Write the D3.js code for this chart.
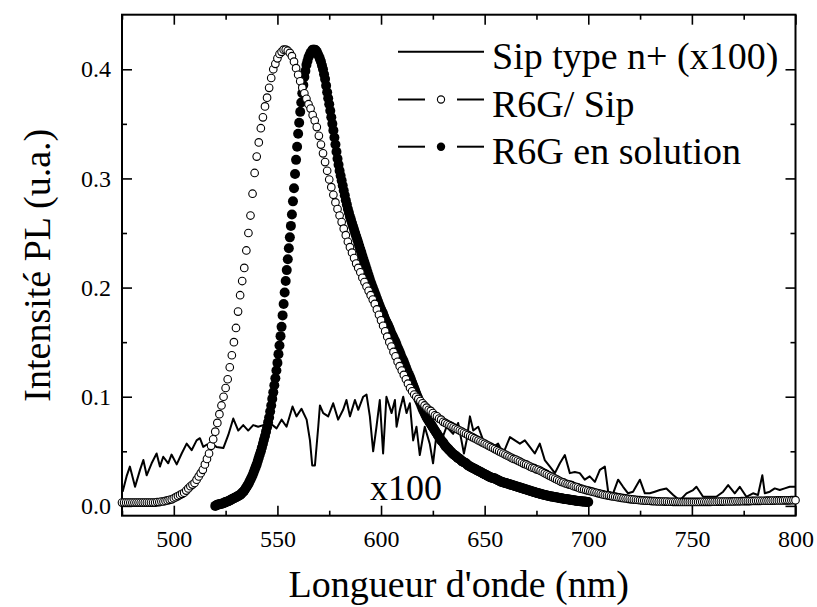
<!DOCTYPE html>
<html><head><meta charset="utf-8">
<script src="https://cdn.jsdelivr.net/npm/d3@7"></script>
<style>
body{margin:0;background:#fff}
svg{display:block}
text{font-family:"Liberation Serif","Times New Roman",serif;fill:#000}
</style>
</head><body><svg id="c" width="817" height="607"></svg>
<script>
// ---- data ----
const sipWavelength = [475.3,477.2,478.8,481.3,483.7,485.3,486.9,489.3,491.7,493.3,
494.9,497.3,498.9,501.4,503.8,506.2,508.6,511.0,512.6,514.2,
515.8,518.2,520.6,523.9,526.3,528.7,531.1,533.5,535.9,538.3,
540.7,543.2,546.4,549.6,552.0,554.4,557.3,559.2,561.6,564.1,
565.7,566.8,568.1,569.7,570.5,572.1,574.5,576.9,579.3,581.7,
583.3,585.0,587.4,589.0,591.4,593.0,594.6,596.2,597.8,599.4,
601.0,602.6,605.1,606.7,607.5,609.1,610.7,612.3,613.9,615.5,
617.1,618.7,621.1,623.5,625.1,626.8,629.2,631.6,634.8,637.2,
640.0,641.3,642.9,644.5,646.9,649.3,651.7,654.1,656.5,659.0,
662.2,664.6,667.0,669.4,671.8,674.2,676.6,679.0,681.5,683.9,
686.3,688.7,691.1,693.5,695.9,698.3,700.7,703.2,705.6,708.0,
709.6,712.0,714.4,716.8,719.2,721.6,724.9,727.3,729.7,732.1,
734.5,737.7,741.0,744.2,747.4,750.6,752.2,755.4,758.6,761.8,
765.1,767.5,770.7,773.1,776.3,779.5,781.9,784.0,785.2,787.6,
790.0,792.4,794.8,797.2,800.0];
const sipIntensity = [0.013,0.027,0.036,0.0175,0.033,0.042,0.028,0.039,0.048,0.036,
0.045,0.039,0.047,0.038,0.048,0.057,0.051,0.060,0.062,0.054,
0.056,0.057,0.054,0.053,0.065,0.080,0.069,0.074,0.069,0.074,
0.0725,0.074,0.076,0.071,0.079,0.0725,0.091,0.082,0.089,0.079,
0.060,0.037,0.037,0.0725,0.092,0.085,0.082,0.094,0.079,0.088,
0.097,0.082,0.097,0.088,0.100,0.102,0.082,0.050,0.0725,0.097,
0.048,0.100,0.085,0.097,0.0725,0.088,0.100,0.085,0.094,0.060,
0.0725,0.0466,0.0725,0.057,0.039,0.066,0.060,0.0725,0.066,0.076,
0.048,0.060,0.082,0.069,0.0725,0.060,0.057,0.054,0.057,0.048,
0.063,0.060,0.057,0.060,0.054,0.048,0.057,0.042,0.036,0.030,
0.039,0.0466,0.030,0.031,0.030,0.024,0.027,0.022,0.033,0.036,
0.013,0.0115,0.024,0.0175,0.0115,0.013,0.024,0.0115,0.0115,0.013,
0.0145,0.016,0.010,0.005,0.0115,0.0145,0.0175,0.0083,0.0083,0.0083,
0.013,0.019,0.0115,0.0175,0.0083,0.0115,0.010,0.028,0.0115,0.013,
0.016,0.0145,0.016,0.0175,0.0175];

const r6gSipStart = 475, r6gSipStep = 1;
const r6gSipIntensity = [
.003,.003,.003,.003,.003,.003,.003,.003,.003,.003,
.003,.003,.003,.003,.003,.003,.003,.0035,.0035,.004,
.004,.0045,.005,.0055,.006,.007,.008,.009,.010,.011,
.012,.014,.016,.018,.0195,.021,.024,.027,.030,.033,
.038,.043,.048,.055,.061,.068,.076,.084,.092,.100,
.108,.116,.127,.138,.150,.163,.178,.193,.206,.218,
.234,.250,.266,.286,.305,.320,.333,.346,.356,.366,
.374,.383,.392,.400,.405,.410,.414,.416,.418,.418,
.417,.415,.412,.407,.401,.395,.389,.383,.378,.373,
.368,.364,.358,.353,.347,.339,.331,.323,.315,.307,
.299,.292,.285,.278,.272,.266,.260,.254,.248,.242,
.237,.232,.227,.222,.218,.214,.209,.205,.201,.197,
.193,.189,.185,.180,.175,.170,.165,.160,.155,.150,
.146,.141,.137,.132,.128,.124,.120,.116,.112,.108,
.105,.102,.100,.098,.096,.094,.092,.090,.088,.087,
.085,.083,.082,.080,.079,.077,.076,.075,.074,.073,
.072,.071,.070,.069,.068,.067,.066,.065,.064,.063,
.062,.061,.060,.059,.058,.057,.056,.055,.054,.053,
.052,.051,.050,.049,.048,.047,.046,.045,.044,.043,
.0425,.0415,.0405,.0395,.0385,.038,.037,.036,.035,.0345,
.0335,.033,.032,.031,.030,.029,.028,.027,.026,.025,
.024,.023,.022,.0215,.0205,.020,.0195,.019,.018,.0175,
.017,.016,.0155,.015,.0145,.014,.0135,.013,.0125,.012,
.0115,.011,.0105,.010,.0097,.0094,.009,.0087,.0084,.008,
.0077,.0074,.0071,.0068,.0065,.0062,.006,.0058,.0056,.0054,
.0052,.005,.0049,.0048,.0047,.0045,.0044,.0043,.0042,.0041,
.004,.004,.0039,.0039,.0038,.0038,.0037,.0037,.0037,.0037,
.0036,.0036,.0036,.0036,.0036,.0036,.0036,.0036,.0036,.0036,
.0037,.0037,.0037,.0037,.0037,.0038,.0038,.0038,.0039,.0039,
.0039,.004,.004,.004,.0041,.0041,.0042,.0042,.0042,.0043,
.0043,.0044,.0044,.0044,.0045,.0045,.0046,.0046,.0046,.0047,
.0047,.0048,.0048,.0048,.0049,.0049,.005,.005,.005,.005,
.0051,.0051,.0051,.0052,.0052,.0052];

const r6gSolStart = 520, r6gSolStep = 0.5;
const r6gSolIntensity = [
0,.0005,.001,.0012,.0015,.0018,.002,.0022,.0025,.003,
.0035,.0038,.004,.0045,.005,.0055,.006,.0065,.007,.0075,
.008,.0085,.009,.0095,.010,.011,.012,.013,.014,.0155,
.017,.0185,.020,.022,.024,.026,.028,.0305,.033,.0355,
.038,.041,.044,.047,.050,.0535,.057,.0605,.064,.068,
.072,.0765,.081,.0865,.092,.098,.104,.1105,.117,.124,
.131,.139,.147,.1555,.164,.1745,.185,.1955,.206,.216,
.226,.236,.246,.2565,.267,.279,.291,.304,.317,.329,
.341,.351,.361,.3695,.378,.3855,.393,.3985,.404,.4075,
.411,.413,.415,.4165,.418,.418,.418,.4175,.416,.414,
.412,.4095,.407,.4035,.400,.3955,.391,.385,.379,.3735,
.368,.362,.356,.350,.344,.3375,.331,.3245,.318,.3125,
.307,.3025,.298,.2935,.289,.2845,.280,.276,.272,.2685,
.265,.262,.259,.256,.253,.250,.247,.244,.241,.238,
.235,.232,.229,.226,.223,.220,.217,.214,.211,.208,
.205,.2025,.200,.1975,.195,.1925,.190,.1875,.185,.1825,
.180,.178,.176,.1735,.171,.169,.167,.165,.163,.1605,
.158,.156,.154,.152,.150,.1475,.145,.143,.141,.1385,
.136,.134,.132,.1295,.127,.1245,.122,.120,.118,.1155,
.113,.1105,.108,.1055,.103,.1005,.098,.096,.094,.0915,
.089,.087,.085,.083,.081,.0795,.078,.0765,.075,.0735,
.072,.0705,.069,.0675,.066,.0645,.063,.0615,.060,.059,
.058,.0565,.055,.054,.053,.052,.051,.050,.049,.048,
.047,.0465,.046,.045,.044,.0435,.043,.042,.041,.0405,
.040,.0395,.039,.038,.037,.0365,.036,.0355,.035,.0345,
.034,.0335,.033,.0325,.032,.0315,.031,.0305,.030,.0295,
.029,.0285,.028,.0275,.027,.0265,.026,.0258,.0255,.0252,
.025,.0245,.024,.0235,.023,.0225,.022,.0218,.0215,.0212,
.021,.0207,.0204,.0201,.0198,.0195,.0192,.0189,.0186,.0183,
.018,.0177,.0174,.0171,.0168,.0165,.0162,.0159,.0156,.0153,
.015,.0147,.0144,.0141,.0138,.0135,.0132,.0129,.0126,.0123,
.012,.0117,.0115,.0112,.011,.0107,.0105,.0102,.010,.0097,
.0095,.0093,.0091,.0089,.0087,.0085,.0083,.0081,.0079,.0078,
.0077,.0075,.0073,.0071,.0069,.0067,.0065,.0064,.0062,.0061,
.006,.0058,.0057,.0055,.0054,.0052,.0051,.0049,.0048,.0046,
.0045,.0044,.0043,.0042,.0041,.004,.0039,.0038,.0037,.0036,
.0035];

const xMajorTicks = [500,550,600,650,700,750,800];
const xMinorTicks = [475,525,575,625,675,725,775];
const yMajorTicks = [0.0,0.1,0.2,0.3,0.4];
const yMinorTicks = [0.05,0.15,0.25,0.35];
const legendLabels = ["Sip type n+ (x100)","R6G/ Sip","R6G en solution"];
const xTitle = "Longueur d'onde (nm)";
const yTitle = "Intensité PL (u.a.)";
const scaleNote = "x100";

// ---- layout ----
const SERIF = '"Liberation Serif","Times New Roman",Times,serif';
const L = 122, R = 795.5, T = 14.7, B = 515.7;
const svg = d3.select("#c");
const x = d3.scaleLinear().domain([475, 800]).range([L, R]);
const y = d3.scaleLinear().domain([-0.009, 0.45]).range([B, T]);

const fmt = d3.format(".1f");
function styleAxis(g){
  g.attr("font-family", SERIF);
  g.select(".domain").remove();
  g.selectAll(".tick line").attr("stroke","#000").attr("stroke-width",1.6);
  g.selectAll("text").attr("font-family", SERIF).style("font-family", SERIF).style("font-size","24px").attr("fill","#000");
}
// bottom
svg.append("g").attr("transform",`translate(0,${B})`)
  .call(d3.axisBottom(x).tickValues(xMajorTicks).tickSize(-10).tickPadding(14).tickFormat(d3.format("d"))).call(styleAxis);
svg.append("g").attr("transform",`translate(0,${B})`)
  .call(d3.axisBottom(x).tickValues(xMinorTicks).tickSize(-5).tickFormat("")).call(styleAxis);
// top
svg.append("g").attr("transform",`translate(0,${T})`)
  .call(d3.axisTop(x).tickValues(xMajorTicks).tickSize(-10).tickFormat("")).call(styleAxis);
svg.append("g").attr("transform",`translate(0,${T})`)
  .call(d3.axisTop(x).tickValues(xMinorTicks).tickSize(-5).tickFormat("")).call(styleAxis);
// left
svg.append("g").attr("transform",`translate(${L},0)`)
  .call(d3.axisLeft(y).tickValues(yMajorTicks).tickSize(-10).tickPadding(11).tickFormat(fmt)).call(styleAxis);
svg.append("g").attr("transform",`translate(${L},0)`)
  .call(d3.axisLeft(y).tickValues(yMinorTicks).tickSize(-5).tickFormat("")).call(styleAxis);
// right
svg.append("g").attr("transform",`translate(${R},0)`)
  .call(d3.axisRight(y).tickValues(yMajorTicks).tickSize(-10).tickFormat("")).call(styleAxis);
svg.append("g").attr("transform",`translate(${R},0)`)
  .call(d3.axisRight(y).tickValues(yMinorTicks).tickSize(-5).tickFormat("")).call(styleAxis);

// frame
svg.append("rect").attr("x",L).attr("y",T).attr("width",R-L).attr("height",B-T)
  .attr("fill","none").attr("stroke","#000").attr("stroke-width",2);

// titles
svg.append("text").attr("x",(L+R)/2).attr("y",597).attr("text-anchor","middle")
  .style("font-family",SERIF).style("font-size","38px").text(xTitle);
svg.append("text").attr("transform",`translate(50,${(T+B)/2}) rotate(-90)`).attr("text-anchor","middle")
  .style("font-family",SERIF).style("font-size","38px").text(yTitle);

// ---- series ----
const sipData = sipWavelength.map((w,i)=>({w, v: sipIntensity[i]}));
const line = d3.line().x(d=>x(d.w)).y(d=>y(d.v));
svg.append("path").datum(sipData).attr("d",line).attr("fill","none")
  .attr("stroke","#000").attr("stroke-width",2).attr("stroke-linejoin","round");

const solData = r6gSolIntensity.map((v,i)=>({w: r6gSolStart + i*r6gSolStep, v}));
svg.append("g").selectAll("circle").data(solData).join("circle")
  .attr("cx",d=>x(d.w)).attr("cy",d=>y(d.v)).attr("r",5).attr("fill","#000");

const sipR6GData = r6gSipIntensity.map((v,i)=>({w: r6gSipStart + i*r6gSipStep, v}));
svg.append("g").selectAll("circle").data(sipR6GData).join("circle")
  .attr("cx",d=>x(d.w)).attr("cy",d=>y(d.v)).attr("r",3.8)
  .attr("fill","#fff").attr("stroke","#000").attr("stroke-width",1.1);

// note
svg.append("text").attr("x",370).attr("y",500).style("font-family",SERIF).style("font-size","36px").text(scaleNote);

// ---- legend ----
const legY = [51.7, 99.5, 146.7];
const lg = svg.append("g");
legendLabels.forEach((lab,i)=>{
  const yy = legY[i];
  if(i===0){
    lg.append("line").attr("x1",398).attr("x2",484).attr("y1",yy).attr("y2",yy).attr("stroke","#000").attr("stroke-width",2);
  } else {
    lg.append("line").attr("x1",398).attr("x2",425).attr("y1",yy).attr("y2",yy).attr("stroke","#000").attr("stroke-width",2);
    lg.append("line").attr("x1",457).attr("x2",484).attr("y1",yy).attr("y2",yy).attr("stroke","#000").attr("stroke-width",2);
    if(i===1) lg.append("circle").attr("cx",441).attr("cy",yy).attr("r",3.6).attr("fill","#fff").attr("stroke","#000").attr("stroke-width",1.1);
    else lg.append("circle").attr("cx",441).attr("cy",yy).attr("r",4.2).attr("fill","#000");
  }
  lg.append("text").attr("x",492).attr("y",yy+17.5).style("font-family",SERIF).style("font-size","38px").text(lab);
});
</script>
</body></html>
